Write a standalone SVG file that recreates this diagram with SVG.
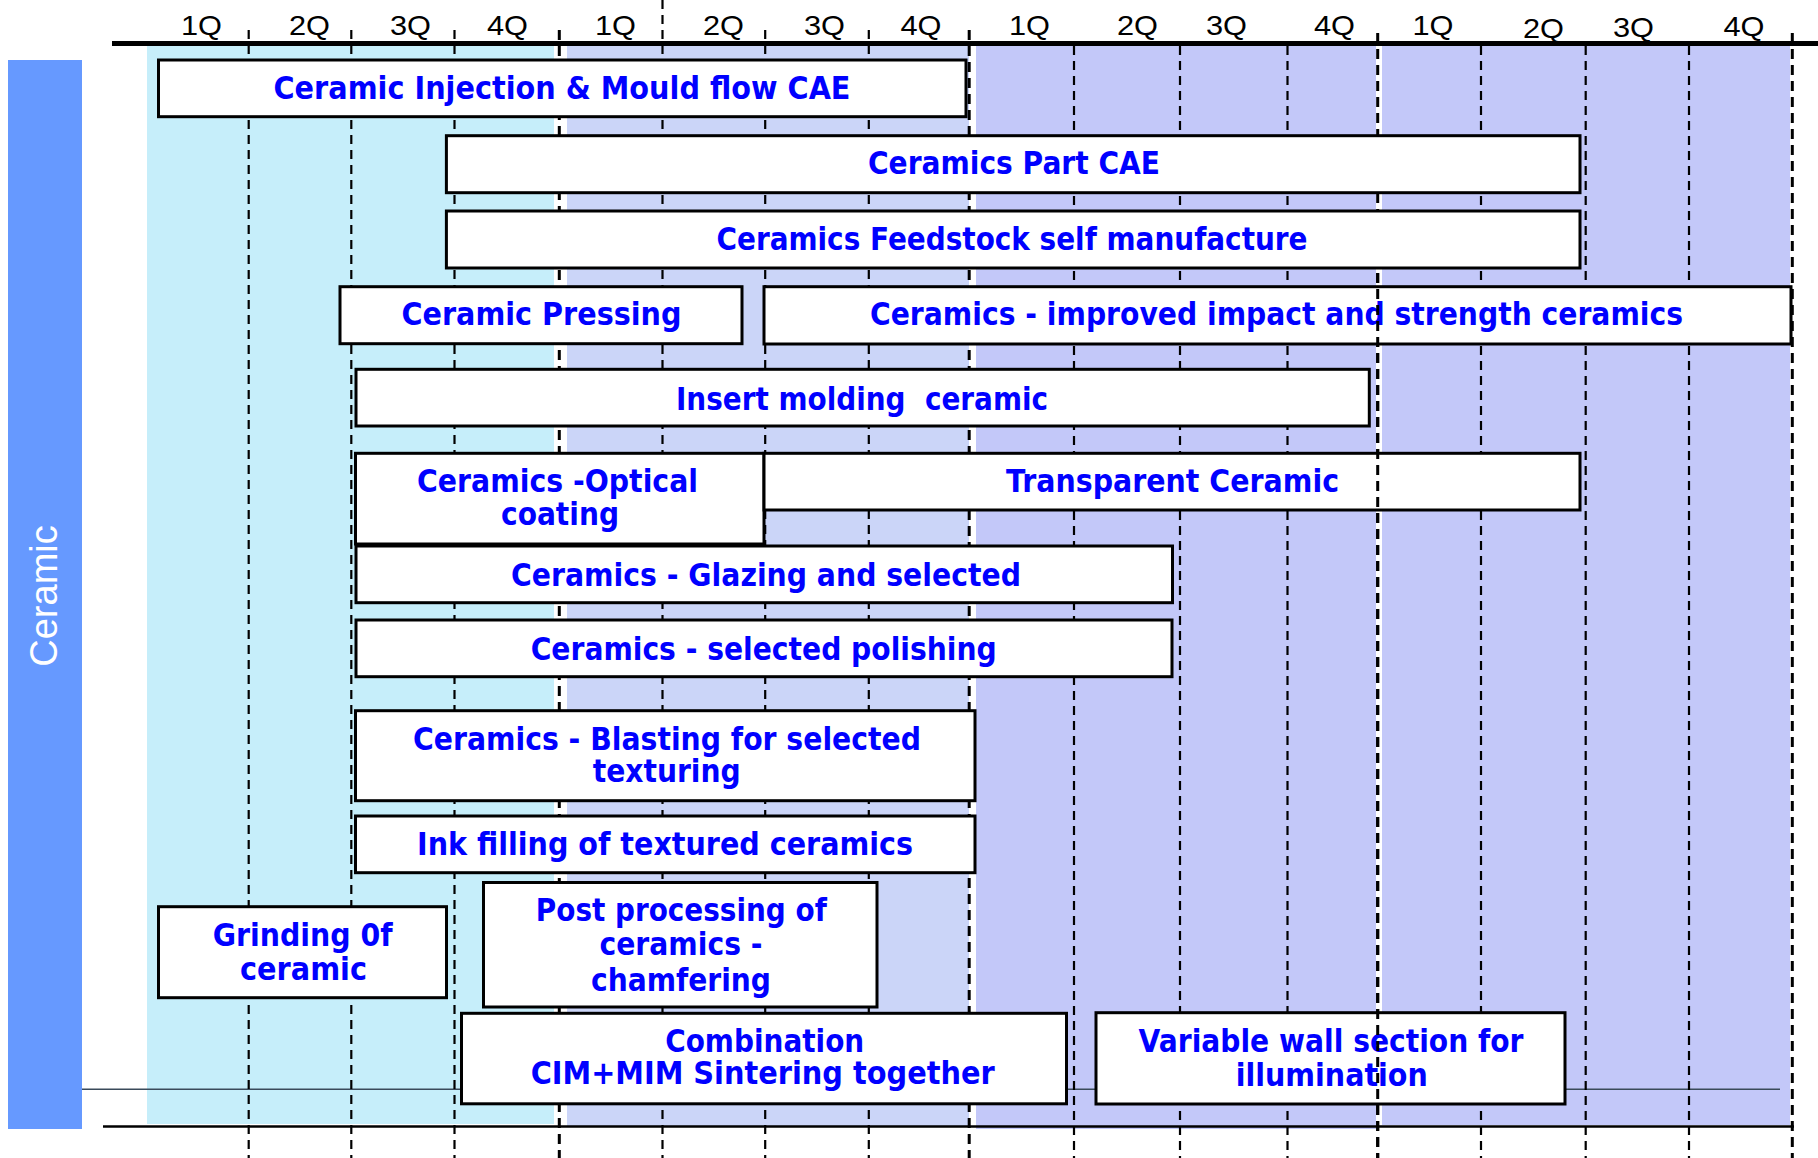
<svg xmlns="http://www.w3.org/2000/svg" width="1818" height="1158" viewBox="0 0 1818 1158">
<style>
.box{fill:#fff;stroke:#000;stroke-width:3}
.t{font-family:"DejaVu Sans","Liberation Sans",sans-serif;font-weight:bold;font-size:32px;fill:#0000FF;text-anchor:middle}
.q{font-family:"Liberation Sans",Arial,sans-serif;font-size:28px;fill:#000;text-anchor:middle}
.g{stroke:#000;stroke-width:2.2;stroke-dasharray:9 6;fill:none}
.y{stroke:#000;stroke-width:3;stroke-dasharray:10 6;fill:none}
</style>
<rect width="1818" height="1158" fill="#fff"/>
<g id="bands">
<rect x="147" y="46" width="407" height="1078" fill="#C6EEFA"/>
<rect x="567" y="46" width="402" height="1081" fill="#CBD5F8"/>
<rect x="976" y="46" width="400" height="1083" fill="#C3C8F9"/>
<rect x="1382" y="46" width="408" height="1079" fill="#C3C8F9"/>
</g>
<g id="category">
<rect x="8" y="60" width="74" height="1069" fill="#6699FF"/>
<text x="57" y="596" transform="rotate(-90 57 596)" font-family="Liberation Sans, Arial, sans-serif" font-size="38" fill="#fff" text-anchor="middle">Ceramic</text>
</g>
<g id="axis">
<line x1="112" y1="43.5" x2="1818" y2="43.5" stroke="#000" stroke-width="5"/>
<line x1="103" y1="1126.5" x2="1794" y2="1126.5" stroke="#000" stroke-width="2.5"/>
<line x1="82" y1="1089.3" x2="1780" y2="1089.3" stroke="#3a4a5a" stroke-width="1.5"/>
</g>
<g id="quarters">
<text class="q" x="201.5" y="34.5" textLength="41" lengthAdjust="spacingAndGlyphs">1Q</text>
<text class="q" x="309.5" y="35" textLength="41" lengthAdjust="spacingAndGlyphs">2Q</text>
<text class="q" x="410.5" y="35" textLength="41" lengthAdjust="spacingAndGlyphs">3Q</text>
<text class="q" x="507.5" y="34.5" textLength="41" lengthAdjust="spacingAndGlyphs">4Q</text>
<text class="q" x="615.5" y="34.5" textLength="41" lengthAdjust="spacingAndGlyphs">1Q</text>
<text class="q" x="723.5" y="35" textLength="41" lengthAdjust="spacingAndGlyphs">2Q</text>
<text class="q" x="824.5" y="35" textLength="41" lengthAdjust="spacingAndGlyphs">3Q</text>
<text class="q" x="921" y="35" textLength="41" lengthAdjust="spacingAndGlyphs">4Q</text>
<text class="q" x="1029.5" y="34.5" textLength="41" lengthAdjust="spacingAndGlyphs">1Q</text>
<text class="q" x="1137.5" y="35" textLength="41" lengthAdjust="spacingAndGlyphs">2Q</text>
<text class="q" x="1226.5" y="35" textLength="41" lengthAdjust="spacingAndGlyphs">3Q</text>
<text class="q" x="1334.5" y="34.5" textLength="41" lengthAdjust="spacingAndGlyphs">4Q</text>
<text class="q" x="1433" y="34.5" textLength="41" lengthAdjust="spacingAndGlyphs">1Q</text>
<text class="q" x="1543.5" y="38" textLength="41" lengthAdjust="spacingAndGlyphs">2Q</text>
<text class="q" x="1633.5" y="36.5" textLength="41" lengthAdjust="spacingAndGlyphs">3Q</text>
<text class="q" x="1744" y="36" textLength="41" lengthAdjust="spacingAndGlyphs">4Q</text>
</g>
<g id="connectors">
<line class="g" x1="248.7" y1="30" x2="248.7" y2="1158"/>
<line class="g" x1="351.3" y1="30" x2="351.3" y2="1158"/>
<line class="g" x1="454.5" y1="30" x2="454.5" y2="1158"/>
<line class="y" x1="559.3" y1="30" x2="559.3" y2="1158"/>
<line class="g" x1="662.5" y1="0" x2="662.5" y2="1158"/>
<line class="g" x1="765.2" y1="30" x2="765.2" y2="1158"/>
<line class="g" x1="868.8" y1="30" x2="868.8" y2="1158"/>
<line class="y" x1="969.2" y1="30" x2="969.2" y2="1158"/>
<line class="g" x1="1074" y1="46" x2="1074" y2="1158"/>
<line class="g" x1="1180" y1="46" x2="1180" y2="1158"/>
<line class="g" x1="1287.5" y1="46" x2="1287.5" y2="1158"/>
<line class="y" x1="1377.7" y1="33" x2="1377.7" y2="1158"/>
<line class="g" x1="1481" y1="46" x2="1481" y2="1158"/>
<line class="g" x1="1585.7" y1="46" x2="1585.7" y2="1158"/>
<line class="g" x1="1689" y1="46" x2="1689" y2="1158"/>
<line class="y" x1="1792.3" y1="33" x2="1792.3" y2="1158"/>
</g>
<g id="n1"><rect class="box" x="158.5" y="60" width="807.5" height="56.7"/><text class="t" x="562" y="98.5" textLength="577" lengthAdjust="spacingAndGlyphs">Ceramic Injection &amp; Mould flow CAE</text></g>
<g id="n2"><rect class="box" x="446.4" y="135.7" width="1133.6" height="57"/><text class="t" x="1014" y="173.5" textLength="292" lengthAdjust="spacingAndGlyphs">Ceramics Part CAE</text></g>
<g id="n3"><rect class="box" x="446.4" y="211" width="1133.6" height="57"/><text class="t" x="1012" y="250" textLength="591" lengthAdjust="spacingAndGlyphs">Ceramics Feedstock self manufacture</text></g>
<g id="n4"><rect class="box" x="340" y="286.7" width="402" height="57"/><text class="t" x="541.5" y="325" textLength="280" lengthAdjust="spacingAndGlyphs">Ceramic Pressing</text></g>
<g id="n5"><rect class="box" x="764" y="286.7" width="1027" height="57.3"/><text class="t" x="1276.5" y="325" textLength="813" lengthAdjust="spacingAndGlyphs">Ceramics - improved impact and strength ceramics</text></g>
<g id="n6"><rect class="box" x="356" y="369.3" width="1013.3" height="56.7"/><text class="t" x="862" y="409.5" textLength="372" lengthAdjust="spacingAndGlyphs" xml:space="preserve">Insert molding  ceramic</text></g>
<g id="n7"><rect class="box" x="355.5" y="453.3" width="408.5" height="90.7"/><text class="t" x="557.5" y="492" textLength="281" lengthAdjust="spacingAndGlyphs">Ceramics -Optical</text><text class="t" x="560" y="525" textLength="118" lengthAdjust="spacingAndGlyphs">coating</text></g>
<g id="n8"><rect class="box" x="764" y="453.3" width="816" height="56.7"/><text class="t" x="1172.5" y="492.3" textLength="333" lengthAdjust="spacingAndGlyphs">Transparent Ceramic</text></g>
<g id="n9"><rect class="box" x="356" y="546" width="816.5" height="56.7"/><text class="t" x="766" y="586" textLength="510" lengthAdjust="spacingAndGlyphs">Ceramics - Glazing and selected</text></g>
<g id="n10"><rect class="box" x="356" y="620" width="816" height="56.7"/><text class="t" x="763.7" y="660" textLength="466" lengthAdjust="spacingAndGlyphs">Ceramics - selected polishing</text></g>
<g id="n11"><rect class="box" x="355.5" y="710.7" width="619.5" height="90"/><text class="t" x="667" y="749.5" textLength="508" lengthAdjust="spacingAndGlyphs">Ceramics - Blasting for selected</text><text class="t" x="666.7" y="782" textLength="148" lengthAdjust="spacingAndGlyphs">texturing</text></g>
<g id="n12"><rect class="box" x="355.5" y="816" width="619.5" height="56.7"/><text class="t" x="665" y="855" textLength="496" lengthAdjust="spacingAndGlyphs">Ink filling of textured ceramics</text></g>
<g id="n13"><rect class="box" x="158.5" y="906.7" width="288" height="91"/><text class="t" x="302.7" y="946" textLength="180" lengthAdjust="spacingAndGlyphs">Grinding 0f</text><text class="t" x="303.5" y="979.5" textLength="127" lengthAdjust="spacingAndGlyphs">ceramic</text></g>
<g id="n14"><rect class="box" x="483.5" y="882.5" width="393.5" height="124.5"/><text class="t" x="681.3" y="921" textLength="291" lengthAdjust="spacingAndGlyphs">Post processing of</text><text class="t" x="681" y="954.5" textLength="163" lengthAdjust="spacingAndGlyphs">ceramics -</text><text class="t" x="681" y="991" textLength="180" lengthAdjust="spacingAndGlyphs">chamfering</text></g>
<g id="n15"><rect class="box" x="461.5" y="1013.3" width="605" height="90.5"/><text class="t" x="764.7" y="1051.5" textLength="199" lengthAdjust="spacingAndGlyphs">Combination</text><text class="t" x="762.7" y="1084" textLength="464" lengthAdjust="spacingAndGlyphs">CIM+MIM Sintering together</text></g>
<g id="n16"><rect class="box" x="1096" y="1012.7" width="469" height="91.3"/><text class="t" x="1331" y="1051.5" textLength="385" lengthAdjust="spacingAndGlyphs">Variable wall section for</text><text class="t" x="1331.7" y="1085.5" textLength="192" lengthAdjust="spacingAndGlyphs">illumination</text></g>
<g id="front-line"><line class="y" x1="1377.7" y1="270" x2="1377.7" y2="1158" stroke-dashoffset="13"/></g>
</svg>
